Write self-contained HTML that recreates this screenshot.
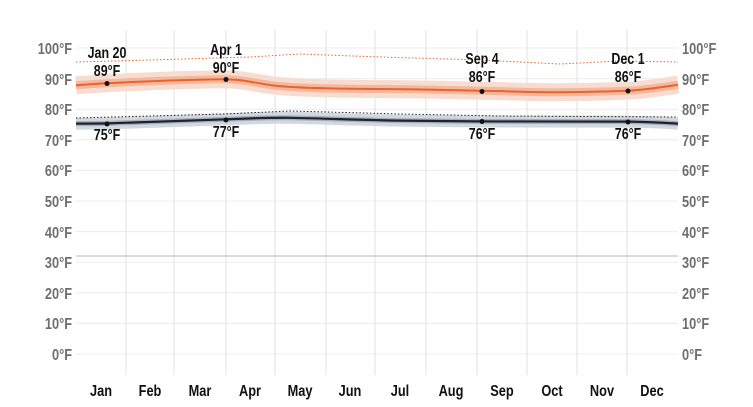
<!DOCTYPE html>
<html><head><meta charset="utf-8"><style>
body{margin:0;background:#fff}
svg{display:block}
text{font-family:"Liberation Sans",sans-serif;font-weight:bold}
.ax{fill:#6e6e6e;font-size:16px}
.lb{fill:#111;font-size:16px;text-anchor:middle}
.mo{fill:#111;font-size:16px;text-anchor:middle}
</style></head><body>
<svg width="753" height="407" viewBox="0 0 753 407">
<g stroke="#ececec" stroke-width="1">
<line x1="76" x2="678" y1="48" y2="48"/><line x1="76" x2="678" y1="78.6" y2="78.6"/><line x1="76" x2="678" y1="109.2" y2="109.2"/><line x1="76" x2="678" y1="139.8" y2="139.8"/><line x1="76" x2="678" y1="170.4" y2="170.4"/><line x1="76" x2="678" y1="201" y2="201"/><line x1="76" x2="678" y1="231.6" y2="231.6"/><line x1="76" x2="678" y1="262.2" y2="262.2"/><line x1="76" x2="678" y1="292.8" y2="292.8"/><line x1="76" x2="678" y1="323.4" y2="323.4"/><line x1="76" x2="678" y1="354" y2="354"/>
</g>
<g stroke="#e0e0e0" stroke-width="1">
<line x1="126" x2="126" y1="30" y2="375"/><line x1="174" x2="174" y1="30" y2="375"/><line x1="226" x2="226" y1="30" y2="375"/><line x1="275" x2="275" y1="30" y2="375"/><line x1="326" x2="326" y1="30" y2="375"/><line x1="375" x2="375" y1="30" y2="375"/><line x1="426" x2="426" y1="30" y2="375"/><line x1="477" x2="477" y1="30" y2="375"/><line x1="527" x2="527" y1="30" y2="375"/><line x1="577" x2="577" y1="30" y2="375"/><line x1="627" x2="627" y1="30" y2="375"/>
</g>
<line x1="76" x2="678" y1="256" y2="256" stroke="#cfcfcf" stroke-width="1.5"/>
<g fill="none" stroke-linejoin="round">
<path stroke="#f8dccf" stroke-width="18" d="M76,85.3 C95,84 100,83.6 107,83.3 C150,81 200,79.4 224,79.2 C240,79.2 250,82 270,85 C290,88 330,88.8 380,89 C420,89.3 450,90 482,90.8 C520,91.6 540,92.3 560,92.2 C590,92 610,91.5 627,90.8 C650,89.5 665,86.5 678,84.7"/>
<path stroke="#f3b89e" stroke-width="8" d="M76,85.3 C95,84 100,83.6 107,83.3 C150,81 200,79.4 224,79.2 C240,79.2 250,82 270,85 C290,88 330,88.8 380,89 C420,89.3 450,90 482,90.8 C520,91.6 540,92.3 560,92.2 C590,92 610,91.5 627,90.8 C650,89.5 665,86.5 678,84.7"/>
<path stroke="#e8642c" stroke-width="2" d="M76,85.3 C95,84 100,83.6 107,83.3 C150,81 200,79.4 224,79.2 C240,79.2 250,82 270,85 C290,88 330,88.8 380,89 C420,89.3 450,90 482,90.8 C520,91.6 540,92.3 560,92.2 C590,92 610,91.5 627,90.8 C650,89.5 665,86.5 678,84.7"/>
<path stroke="#d3d8df" stroke-width="12" d="M76,123.6 C95,123.6 100,123.6 107,123.4 C150,122 200,120 226,119.3 C250,118.3 270,117.5 290,117.8 C330,118.6 360,120 400,120.6 C440,121.1 460,121.4 482,121.4 C540,121.5 600,121.6 627,121.6 C650,121.8 665,122.8 678,123.6"/>
<path stroke="#a9b0bc" stroke-width="5" d="M76,123.6 C95,123.6 100,123.6 107,123.4 C150,122 200,120 226,119.3 C250,118.3 270,117.5 290,117.8 C330,118.6 360,120 400,120.6 C440,121.1 460,121.4 482,121.4 C540,121.5 600,121.6 627,121.6 C650,121.8 665,122.8 678,123.6"/>
<path stroke="#1c2434" stroke-width="2.2" d="M76,123.6 C95,123.6 100,123.6 107,123.4 C150,122 200,120 226,119.3 C250,118.3 270,117.5 290,117.8 C330,118.6 360,120 400,120.6 C440,121.1 460,121.4 482,121.4 C540,121.5 600,121.6 627,121.6 C650,121.8 665,122.8 678,123.6"/>
<polyline stroke="#e8642c" stroke-width="1" stroke-dasharray="1.5,2" points="76,62 150,60 250,57 300,54 380,57 480,60 560,64 620,61 678,62"/>
<polyline stroke="#222" stroke-width="1" stroke-dasharray="1.5,2" points="76,118 224,114 290,111 400,114 500,116 678,117"/>
</g>
<g fill="#111"><circle cx="107" cy="83.5" r="2.5"/><circle cx="226" cy="79.5" r="2.5"/><circle cx="482" cy="91.5" r="2.5"/><circle cx="628" cy="91" r="2.5"/>
<circle cx="107" cy="124" r="2.5"/><circle cx="226" cy="120" r="2.5"/><circle cx="482" cy="121.5" r="2.5"/><circle cx="628" cy="122" r="2.5"/></g>
<g class="lb">
<text transform="translate(107,58) scale(0.78,1)">Jan 20</text><text transform="translate(107,76) scale(0.78,1)">89°F</text>
<text transform="translate(226,55) scale(0.78,1)">Apr 1</text><text transform="translate(226,73) scale(0.78,1)">90°F</text>
<text transform="translate(482,64) scale(0.78,1)">Sep 4</text><text transform="translate(482,82) scale(0.78,1)">86°F</text>
<text transform="translate(628,64) scale(0.78,1)">Dec 1</text><text transform="translate(628,82) scale(0.78,1)">86°F</text>
<text transform="translate(107,140) scale(0.78,1)">75°F</text><text transform="translate(226,137) scale(0.78,1)">77°F</text>
<text transform="translate(482,139) scale(0.78,1)">76°F</text><text transform="translate(628,139) scale(0.78,1)">76°F</text>
</g>
<g class="ax" text-anchor="end">
<text transform="translate(72,54) scale(0.8,1)">100°F</text><text transform="translate(72,85) scale(0.8,1)">90°F</text><text transform="translate(72,115) scale(0.8,1)">80°F</text><text transform="translate(72,146) scale(0.8,1)">70°F</text><text transform="translate(72,176) scale(0.8,1)">60°F</text><text transform="translate(72,207) scale(0.8,1)">50°F</text><text transform="translate(72,238) scale(0.8,1)">40°F</text><text transform="translate(72,268) scale(0.8,1)">30°F</text><text transform="translate(72,299) scale(0.8,1)">20°F</text><text transform="translate(72,329) scale(0.8,1)">10°F</text><text transform="translate(72,360) scale(0.8,1)">0°F</text>
</g>
<g class="ax" text-anchor="start">
<text transform="translate(682,54) scale(0.8,1)">100°F</text><text transform="translate(682,85) scale(0.8,1)">90°F</text><text transform="translate(682,115) scale(0.8,1)">80°F</text><text transform="translate(682,146) scale(0.8,1)">70°F</text><text transform="translate(682,176) scale(0.8,1)">60°F</text><text transform="translate(682,207) scale(0.8,1)">50°F</text><text transform="translate(682,238) scale(0.8,1)">40°F</text><text transform="translate(682,268) scale(0.8,1)">30°F</text><text transform="translate(682,299) scale(0.8,1)">20°F</text><text transform="translate(682,329) scale(0.8,1)">10°F</text><text transform="translate(682,360) scale(0.8,1)">0°F</text>
</g>
<g class="mo">
<text transform="translate(101,396) scale(0.8,1)">Jan</text><text transform="translate(150,396) scale(0.8,1)">Feb</text><text transform="translate(200,396) scale(0.8,1)">Mar</text><text transform="translate(250,396) scale(0.8,1)">Apr</text><text transform="translate(300,396) scale(0.8,1)">May</text><text transform="translate(350,396) scale(0.8,1)">Jun</text><text transform="translate(400,396) scale(0.8,1)">Jul</text><text transform="translate(451,396) scale(0.8,1)">Aug</text><text transform="translate(502,396) scale(0.8,1)">Sep</text><text transform="translate(552,396) scale(0.8,1)">Oct</text><text transform="translate(602,396) scale(0.8,1)">Nov</text><text transform="translate(652,396) scale(0.8,1)">Dec</text>
</g>
</svg>
</body></html>
